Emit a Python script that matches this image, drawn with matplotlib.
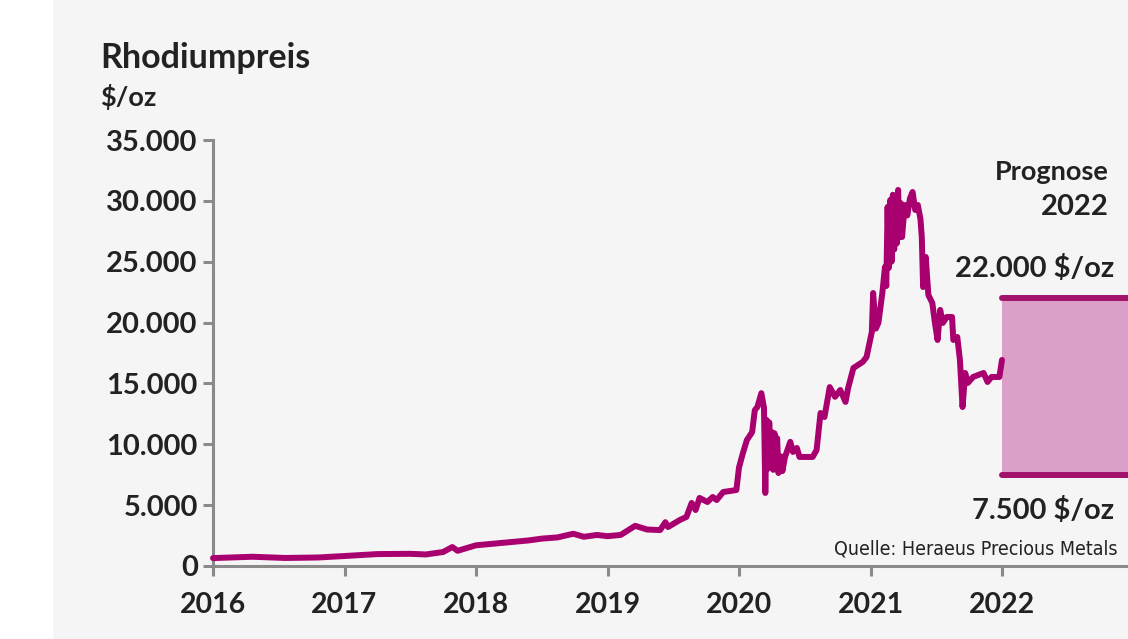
import numpy as np
import matplotlib.pyplot as plt
from matplotlib.patches import Rectangle

# Rhodiumpreis in $/oz, Zeit als Dezimaljahr
jahr = [2016.00, 2016.30, 2016.55, 2016.80, 2017.00, 2017.25, 2017.50, 2017.62,
        2017.75, 2017.82, 2017.86, 2018.00, 2018.10, 2018.25, 2018.40, 2018.50,
        2018.62, 2018.74, 2018.82, 2018.92, 2019.00, 2019.10, 2019.21, 2019.30,
        2019.40, 2019.44, 2019.46, 2019.55, 2019.60, 2019.64, 2019.67, 2019.70,
        2019.76, 2019.80, 2019.83, 2019.88, 2019.98, 2020.00, 2020.03, 2020.06,
        2020.10, 2020.12, 2020.14, 2020.17, 2020.19, 2020.20, 2020.21, 2020.22,
        2020.23, 2020.24, 2020.25, 2020.26, 2020.27, 2020.28, 2020.29, 2020.30,
        2020.32, 2020.33, 2020.35, 2020.39, 2020.41, 2020.44, 2020.46, 2020.56,
        2020.59, 2020.62, 2020.65, 2020.69, 2020.73, 2020.77, 2020.81, 2020.83,
        2020.87, 2020.94, 2020.97, 2021.01, 2021.02, 2021.04, 2021.06, 2021.09,
        2021.11, 2021.12, 2021.13, 2021.14, 2021.15, 2021.16, 2021.17, 2021.18,
        2021.19, 2021.20, 2021.21, 2021.22, 2021.23, 2021.24, 2021.26, 2021.28,
        2021.30, 2021.32, 2021.34, 2021.36, 2021.38, 2021.39, 2021.40, 2021.42,
        2021.44, 2021.47, 2021.49, 2021.51, 2021.53, 2021.55, 2021.58, 2021.62,
        2021.63, 2021.66, 2021.68, 2021.70, 2021.72, 2021.74, 2021.78, 2021.86,
        2021.89, 2021.92, 2021.98, 2022.00]
preis = [650, 760, 660, 700, 820, 980, 1000, 950,
         1150, 1560, 1250, 1700, 1800, 1950, 2100, 2250,
         2350, 2650, 2400, 2550, 2450, 2550, 3300, 3000,
         2950, 3600, 3200, 3780, 4030, 5180, 4600, 5590,
         5260, 5670, 5420, 6080, 6240, 8100, 9290, 10350,
         11000, 12800, 13070, 14200, 13000, 6000, 12000, 8000,
         11800, 8500, 11000, 7900, 10900, 8500, 10500, 7640,
         9000, 7800, 8960, 10200, 9370, 9700, 8960, 8960,
         9530, 12570, 12240, 14700, 13900, 14460, 13480, 14630,
         16270, 16760, 17170, 19230, 22430, 19500, 19970, 22430,
         24570, 23000, 29500, 24500, 30070, 25000, 30500, 26000,
         29500, 26500, 30900, 27000, 29800, 27030, 29660, 28800,
         30200, 30730, 29250, 29660, 28500, 27030, 22920, 25390,
         22270, 21610, 19970, 18570, 21040, 19970, 20460, 20460,
         18570, 18820, 16930, 13060, 15860, 15040, 15530, 15860,
         15120, 15530, 15530, 16930]

# Prognose 2022
prog_start = 2022.0
prog_hoch = 22000
prog_tief = 7500

y_ticks = [0, 5000, 10000, 15000, 20000, 25000, 30000, 35000]
y_labels = ['0', '5.000', '10.000', '15.000', '20.000', '25.000', '30.000', '35.000']
x_ticks = [2016, 2017, 2018, 2019, 2020, 2021, 2022]

linie = '#a9006f'
band = '#dba0c8'
rand = '#a3136c'
grau = '#8a8a8a'
text = '#222222'
plt.rcParams['font.family'] = ['Lato', 'DejaVu Sans']

fig = plt.figure(figsize=(11.28, 6.39), dpi=100, facecolor='#f5f5f5')
fig.patches.append(Rectangle((0, 0), 52 / 1128, 1, transform=fig.transFigure,
                             color='white', zorder=0))
ax = fig.add_axes([213 / 1128, (639 - 566) / 639, (1128 - 213) / 1128, 426 / 639])
ax.patch.set_alpha(0)

xmax = 2016 + (1128 - 213) / 131.5
ax.set_xlim(2016, xmax)
ax.set_ylim(0, 35000)

ax.plot(jahr, preis, color=linie, lw=4.3, solid_joinstyle='round',
        solid_capstyle='round', zorder=3, clip_on=False)

ax.fill_between([prog_start, xmax], prog_tief, prog_hoch, color=band, lw=0, zorder=2)
for wert in (prog_hoch, prog_tief):
    ax.plot([prog_start, xmax], [wert, wert], color=rand, lw=4.3,
            solid_capstyle='round', zorder=3, clip_on=False)

for s in ('top', 'right'):
    ax.spines[s].set_visible(False)
for s in ('left', 'bottom'):
    ax.spines[s].set_color(grau)
    ax.spines[s].set_linewidth(2.2)
    ax.spines[s].set_zorder(1)

ax.set_yticks(y_ticks)
ax.set_yticklabels(y_labels)
ax.set_xticks(x_ticks)
ax.tick_params(colors=grau, width=2.2, length=7, labelcolor=text, labelsize=21, pad=4)
ax.tick_params(axis='x', labelsize=20.5, pad=12)
for lab in ax.get_xticklabels() + ax.get_yticklabels():
    lab.set_fontweight('bold')

fig.text(100 / 1128, 1 - 58 / 639, 'Rhodiumpreis', fontsize=24.5, fontweight='bold',
         color=text, va='center', ha='left')
fig.text(100 / 1128, 1 - 97 / 639, '$/oz', fontsize=19.5, fontweight='bold',
         color=text, va='center', ha='left')

fig.text(1109 / 1128, 1 - 172 / 639, 'Prognose', fontsize=19.5, fontweight='bold',
         color=text, va='center', ha='right')
fig.text(1109 / 1128, 1 - 207 / 639, '2022', fontsize=21, fontweight='bold',
         color=text, va='center', ha='right')
fig.text(1114 / 1128, 1 - 268 / 639, '22.000 $/oz', fontsize=21, fontweight='bold',
         color=text, va='center', ha='right')
fig.text(1114 / 1128, 1 - 510 / 639, '7.500 $/oz', fontsize=21, fontweight='bold',
         color=text, va='center', ha='right')
fig.text(1118 / 1128, 1 - 549 / 639, 'Quelle: Heraeus Precious Metals', fontsize=14,
         family='DejaVu Sans', fontstretch='condensed', color=text,
         va='center', ha='right')

fig.savefig('out.png', dpi=100, facecolor=fig.get_facecolor())
